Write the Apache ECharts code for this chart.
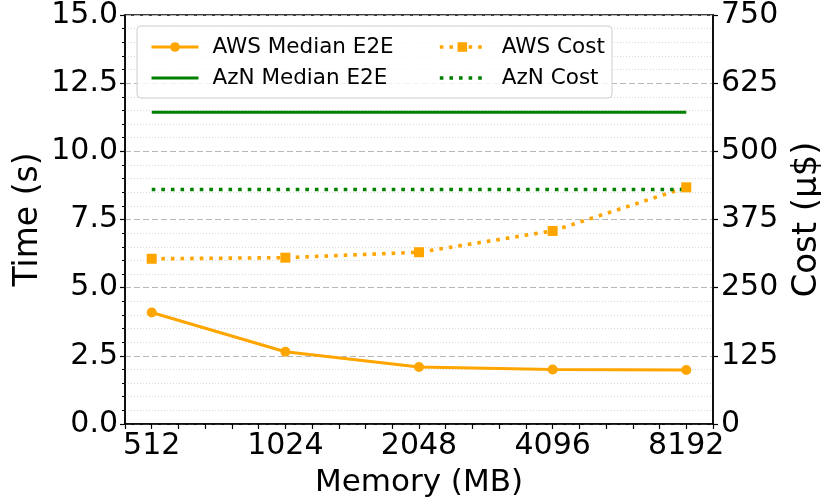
<!DOCTYPE html>
<html>
<head>
<meta charset="utf-8">
<script src="https://cdn.jsdelivr.net/npm/echarts@6/dist/echarts.min.js"></script>
<style>
  html, body { margin: 0; padding: 0; background: #fff; }
  #chartBox { width: 821px; height: 502px; }
</style>
</head>
<body>
<div id="chartBox"></div>
<script>
// memory sizes (MB), plotted on a log2 axis
var memory = [512, 1024, 2048, 4096, 8192]
// median end-to-end time (s)
var awsE2E = [4.09, 2.65, 2.09, 2.0, 1.98]
var aznE2E = [11.43, 11.43, 11.43, 11.43, 11.43]
// cost (µ$)
var awsCost = [303, 305, 315, 354, 434]
var aznCost = [430, 430, 430, 430, 430]

var font = 'DejaVu Sans'
var orange = '#ffa500'
var green = '#008000'

function pairs(vals) {
  return memory.map(function (m, i) {
    return [Math.log2(m), vals[i]]
  })
}

var legendText = { fontFamily: font, fontSize: 21.5, color: '#000' }

var myChart = echarts.init(document.getElementById('chartBox'))
myChart.setOption({
  animation: false,
  textStyle: { fontFamily: font },
  grid: {
    left: 125,
    right: 108,
    top: 15,
    bottom: 78,
    outerBoundsMode: 'none',
    containLabel: false,
    show: true,
    borderColor: '#000',
    borderWidth: 1.5,
    backgroundColor: 'transparent'
  },
  graphic: [
    {
      type: 'rect',
      z: 100,
      shape: { x: 137, y: 26, width: 475, height: 72, r: 4 },
      style: { fill: 'rgba(255,255,255,0.8)', stroke: '#cccccc', lineWidth: 1 }
    }
  ],
  legend: [
    {
      orient: 'vertical',
      left: 145,
      top: 31,
      z: 101,
      itemWidth: 47,
      itemHeight: 12,
      itemGap: 9,
      lineStyle: { width: 'inherit' },
      textStyle: Object.assign({ padding: [0, 0, 0, 9] }, legendText),
      data: [
        { name: 'AWS Median E2E' },
        { name: 'AzN Median E2E', itemStyle: { opacity: 0 } }
      ]
    },
    {
      orient: 'vertical',
      left: 433,
      top: 31,
      z: 101,
      itemWidth: 45,
      itemHeight: 12,
      itemGap: 9,
      lineStyle: { width: 'inherit' },
      textStyle: Object.assign({ padding: [0, 0, 0, 12] }, legendText),
      data: [
        { name: 'AWS Cost' },
        { name: 'AzN Cost', itemStyle: { opacity: 0 } }
      ]
    }
  ],
  xAxis: {
    type: 'value',
    min: 8.8,
    max: 13.2,
    interval: 0.2,
    name: 'Memory (MB)',
    nameLocation: 'middle',
    nameGap: 43,
    nameTextStyle: { fontFamily: font, fontSize: 31, color: '#000' },
    axisLine: { lineStyle: { color: '#000', width: 1.5 } },
    axisTick: { length: 5, lineStyle: { color: '#000', width: 1.2 } },
    axisLabel: {
      fontFamily: font,
      fontSize: 30,
      color: '#000',
      margin: 7,
      showMinLabel: true,
      showMaxLabel: true,
      formatter: function (v) {
        for (var i = 0; i < memory.length; i++) {
          if (Math.abs(Math.log2(memory[i]) - v) < 1e-6) return String(memory[i])
        }
        return ''
      }
    },
    splitLine: { show: false }
  },
  yAxis: [
    {
      type: 'value',
      min: 0,
      max: 15,
      interval: 2.5,
      name: 'Time (s)',
      nameLocation: 'middle',
      nameRotate: 90,
      nameGap: 80,
      nameMoveOverlap: false,
      nameTextStyle: { fontFamily: font, fontSize: 33, color: '#000' },
      axisLine: { show: true, lineStyle: { color: '#000', width: 1.5 } },
      axisTick: { show: true, length: 5, lineStyle: { color: '#000', width: 1.2 } },
      minorTick: { show: true, splitNumber: 5, length: 3, lineStyle: { color: '#000', width: 1 } },
      axisLabel: {
        fontFamily: font,
        fontSize: 30,
        color: '#000',
        margin: 7,
        formatter: function (v) { return v.toFixed(1) }
      },
      splitLine: { show: true, lineStyle: { color: '#b8b8b8', width: 1.2, type: [6, 3] } },
      minorSplitLine: { show: true, lineStyle: { color: '#d8d8d8', width: 1, type: [1, 2] } }
    },
    {
      type: 'value',
      min: 0,
      max: 750,
      interval: 125,
      position: 'right',
      name: 'Cost (µ$)',
      nameLocation: 'middle',
      nameRotate: 90,
      nameGap: 77,
      nameTextStyle: { fontFamily: font, fontSize: 34, color: '#000' },
      axisLine: { show: true, lineStyle: { color: '#000', width: 1.5 } },
      axisTick: { show: true, length: 5, lineStyle: { color: '#000', width: 1.2 } },
      axisLabel: { fontFamily: font, fontSize: 30, color: '#000', margin: 8 },
      splitLine: { show: false }
    }
  ],
  series: [
    {
      name: 'AWS Median E2E',
      type: 'line',
      yAxisIndex: 0,
      data: pairs(awsE2E),
      color: orange,
      symbol: 'circle',
      symbolSize: 10,
      lineStyle: { width: 3, color: orange },
      itemStyle: { color: orange }
    },
    {
      name: 'AzN Median E2E',
      type: 'line',
      yAxisIndex: 0,
      data: pairs(aznE2E),
      color: green,
      showSymbol: false,
      lineStyle: { width: 3, color: green },
      itemStyle: { color: green }
    },
    {
      name: 'AWS Cost',
      type: 'line',
      yAxisIndex: 1,
      data: pairs(awsCost),
      color: orange,
      symbol: 'rect',
      symbolSize: 10,
      lineStyle: { width: 3.6, color: orange, type: [3.6, 6], cap: 'butt' },
      itemStyle: { color: orange }
    },
    {
      name: 'AzN Cost',
      type: 'line',
      yAxisIndex: 1,
      data: pairs(aznCost),
      color: green,
      showSymbol: false,
      lineStyle: { width: 3.6, color: green, type: [3.6, 6], cap: 'butt' },
      itemStyle: { color: green }
    }
  ]
})
</script>
</body>
</html>
